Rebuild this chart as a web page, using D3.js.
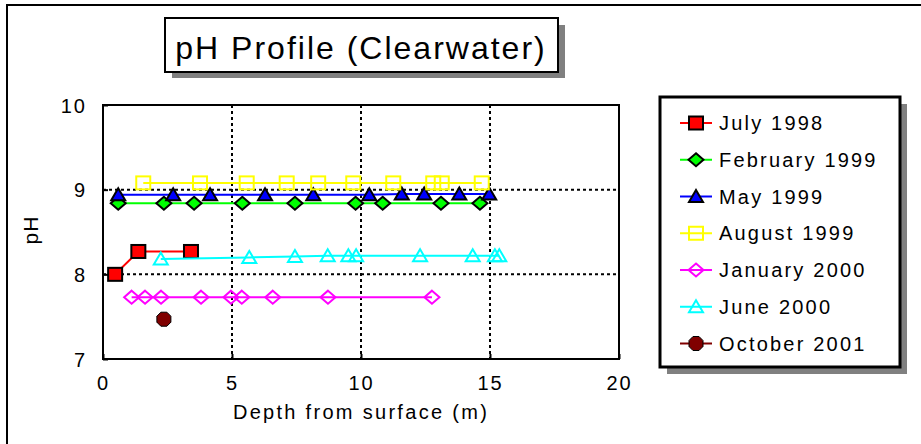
<!DOCTYPE html>
<html>
<head>
<meta charset="utf-8">
<script src="https://cdn.jsdelivr.net/npm/d3@7"></script>
<style>
  html, body { margin: 0; padding: 0; background: #fff; }
  svg { display: block; font-family: "Liberation Sans", Arial, sans-serif; }
</style>
</head>
<body>
<svg id="chart" width="921" height="444"></svg>
<script>
// ---------- DATA ----------
const titleText = "pH Profile (Clearwater)";
const xAxisTitle = "Depth from surface (m)";
const yAxisTitle = "pH";
const xTicks = [0, 5, 10, 15, 20];
const yTicks = [7, 8, 9, 10];
const xGrid = [5, 10, 15];
const yGrid = [8, 9];

const seriesNames = ["July 1998", "February 1999", "May 1999", "August 1999", "January 2000", "June 2000", "October 2001"];

const jul1998Depth = [0.47, 1.37, 3.41];
const jul1998PH    = [8.00, 8.27, 8.27];

const feb1999Depth = [0.59, 2.36, 3.53, 5.40, 7.44, 9.79, 10.84, 13.10, 14.61];
const feb1999PH    = [8.84, 8.84, 8.84, 8.84, 8.84, 8.84, 8.84, 8.84, 8.84];

const may1999Depth = [0.59, 2.72, 4.15, 6.28, 8.15, 10.32, 11.58, 12.45, 13.81, 14.97];
const may1999PH    = [8.94, 8.94, 8.94, 8.94, 8.94, 8.94, 8.95, 8.95, 8.95, 8.95];

const aug1999Depth = [1.56, 3.76, 5.57, 7.12, 8.34, 9.70, 11.25, 12.80, 13.13, 14.68];
const aug1999PH    = [9.08, 9.08, 9.08, 9.08, 9.08, 9.08, 9.08, 9.08, 9.08, 9.08];

const jan2000Depth = [1.11, 1.63, 2.25, 3.80, 4.96, 5.38, 6.58, 8.72, 12.75];
const jan2000PH    = [7.73, 7.73, 7.73, 7.73, 7.73, 7.73, 7.73, 7.73, 7.73];

const jun2000Depth = [2.24, 5.67, 7.44, 8.71, 9.51, 9.81, 12.29, 14.33, 15.19, 15.36];
const jun2000PH    = [8.18, 8.20, 8.21, 8.22, 8.22, 8.22, 8.22, 8.22, 8.22, 8.22];

const oct2001Depth = [2.36];
const oct2001PH    = [7.47];

// ---------- STYLES ----------
const styles = [
  { color: "#ff0000", marker: "square",   fill: "#ff0000", stroke: "#000" },
  { color: "#00ff00", marker: "diamond",  fill: "#00ff00", stroke: "#000" },
  { color: "#0000ff", marker: "triangle", fill: "#0000ff", stroke: "#000" },
  { color: "#ffff00", marker: "square",   fill: "none",    stroke: "#ffff00" },
  { color: "#ff00ff", marker: "diamond",  fill: "none",    stroke: "#ff00ff" },
  { color: "#00ffff", marker: "triangle", fill: "none",    stroke: "#00ffff" },
  { color: "#800000", marker: "circle",   fill: "#800000", stroke: "#000" }
];

const depthArrays = [jul1998Depth, feb1999Depth, may1999Depth, aug1999Depth, jan2000Depth, jun2000Depth, oct2001Depth];
const phArrays = [jul1998PH, feb1999PH, may1999PH, aug1999PH, jan2000PH, jun2000PH, oct2001PH];

const series = seriesNames.map((name, i) => ({
  name,
  style: styles[i],
  points: depthArrays[i].map((d, j) => ({ x: d, y: phArrays[i][j] }))
}));

// ---------- LAYOUT ----------
const svg = d3.select("#chart");
const plot = { left: 103, right: 619, top: 105, bottom: 359 };

const x = d3.scaleLinear().domain([0, 20]).range([plot.left, plot.right]);
const y = d3.scaleLinear().domain([7, 10]).range([plot.bottom, plot.top]);

// outer frame (left + top edges visible)
svg.append("path")
  .attr("d", "M7,450 L7,5 L930,5")
  .attr("fill", "none").attr("stroke", "#000").attr("stroke-width", 2);

// Title box with shadow
svg.append("rect").attr("x", 172).attr("y", 25).attr("width", 393).attr("height", 53).attr("fill", "#808080");
svg.append("rect").attr("x", 165).attr("y", 18).attr("width", 393).attr("height", 54)
  .attr("fill", "#fff").attr("stroke", "#000").attr("stroke-width", 2);
svg.append("text").attr("x", 361).attr("y", 59).attr("text-anchor", "middle")
  .attr("font-size", 32).attr("letter-spacing", 2).attr("fill", "#000").text(titleText);

// Gridlines
const g = svg.append("g");
g.selectAll(".xg").data(xGrid).join("line")
  .attr("x1", d => x(d)).attr("x2", d => x(d))
  .attr("y1", plot.top).attr("y2", plot.bottom)
  .attr("stroke", "#000").attr("stroke-width", 2).attr("stroke-dasharray", "3,3");
g.selectAll(".yg").data(yGrid).join("line")
  .attr("x1", plot.left).attr("x2", plot.right)
  .attr("y1", d => y(d)).attr("y2", d => y(d))
  .attr("stroke", "#000").attr("stroke-width", 2).attr("stroke-dasharray", "3,3");

// Axes using d3 axes
const xAxis = d3.axisBottom(x).tickValues(xTicks).tickFormat(d3.format("d")).tickSize(-5);
const yAxis = d3.axisLeft(y).tickValues(yTicks).tickFormat(d3.format("d")).tickSize(-5).tickPadding(16);

const gx = svg.append("g").attr("transform", `translate(0,${plot.bottom})`).call(xAxis);
const gy = svg.append("g").attr("transform", `translate(${plot.left},0)`).call(yAxis);
[gx, gy].forEach(a => {
  a.select(".domain").remove();
  a.selectAll(".tick line").attr("stroke", "#000").attr("stroke-width", 2);
  a.selectAll(".tick text").attr("font-size", 20).attr("letter-spacing", 2)
    .attr("fill", "#000").attr("font-family", "Liberation Sans, Arial, sans-serif");
});
gx.selectAll(".tick text").attr("dy", 0).attr("y", 31);
gy.selectAll(".tick text").attr("dy", 0).attr("transform", "translate(0,7)");

// Plot frame
svg.append("rect").attr("x", plot.left).attr("y", plot.top)
  .attr("width", plot.right - plot.left).attr("height", plot.bottom - plot.top)
  .attr("fill", "none").attr("stroke", "#000").attr("stroke-width", 2);

// Axis titles
svg.append("text").attr("x", (plot.left + plot.right) / 2).attr("y", 419)
  .attr("text-anchor", "middle").attr("font-size", 20).attr("letter-spacing", 2.3)
  .attr("fill", "#000").text(xAxisTitle);
svg.append("text").attr("transform", "translate(38,230) rotate(-90)")
  .attr("text-anchor", "middle").attr("font-size", 21).attr("letter-spacing", 1)
  .attr("fill", "#000").text(yAxisTitle);

// Marker drawing
function drawMarker(sel, style) {
  const sw = 2;
  if (style.marker === "square") {
    sel.append("rect").attr("x", -7).attr("y", -6.5).attr("width", 14).attr("height", 13)
      .attr("fill", style.fill).attr("stroke", style.stroke).attr("stroke-width", sw);
  } else if (style.marker === "diamond") {
    sel.append("path").attr("d", "M0,-6.5 L7.5,0 L0,6.5 L-7.5,0 Z")
      .attr("fill", style.fill).attr("stroke", style.stroke).attr("stroke-width", sw);
  } else if (style.marker === "triangle") {
    sel.append("path").attr("d", "M0,-6.5 L7,5.5 L-7,5.5 Z")
      .attr("fill", style.fill).attr("stroke", style.stroke).attr("stroke-width", sw);
  } else {
    sel.append("path").attr("d", "M-3,-7 L3,-7 L7,-3 L7,3 L3,7 L-3,7 L-7,3 L-7,-3 Z")
      .attr("fill", style.fill).attr("stroke", style.stroke).attr("stroke-width", 1);
  }
}

const line = d3.line().x(d => x(d.x)).y(d => y(d.y));

series.forEach(s => {
  const sg = svg.append("g");
  if (s.points.length > 1) {
    sg.append("path").datum(s.points).attr("d", line)
      .attr("fill", "none").attr("stroke", s.style.color).attr("stroke-width", 2);
  }
  sg.selectAll("g.m").data(s.points).join("g")
    .attr("transform", d => `translate(${x(d.x)},${y(d.y)})`)
    .each(function() { drawMarker(d3.select(this), s.style); });
});

// Legend with shadow
svg.append("rect").attr("x", 667).attr("y", 104).attr("width", 240).attr("height", 270).attr("fill", "#808080");
svg.append("rect").attr("x", 660).attr("y", 97).attr("width", 240).attr("height", 270)
  .attr("fill", "#fff").attr("stroke", "#000").attr("stroke-width", 3);

const legendY = d3.scalePoint().domain(seriesNames).range([123, 343.5]);
const lg = svg.append("g").selectAll("g").data(series).join("g")
  .attr("transform", d => `translate(0,${legendY(d.name)})`);
lg.append("line").attr("x1", 680).attr("x2", 712).attr("y1", 0).attr("y2", 0)
  .attr("stroke", d => d.style.color).attr("stroke-width", 2);
lg.append("g").attr("transform", "translate(696,0)")
  .each(function(d) { drawMarker(d3.select(this), d.style); });
lg.append("text").attr("x", 719).attr("y", 7).attr("font-size", 20).attr("letter-spacing", 2.2)
  .attr("fill", "#000").text(d => d.name);
</script>
</body>
</html>
